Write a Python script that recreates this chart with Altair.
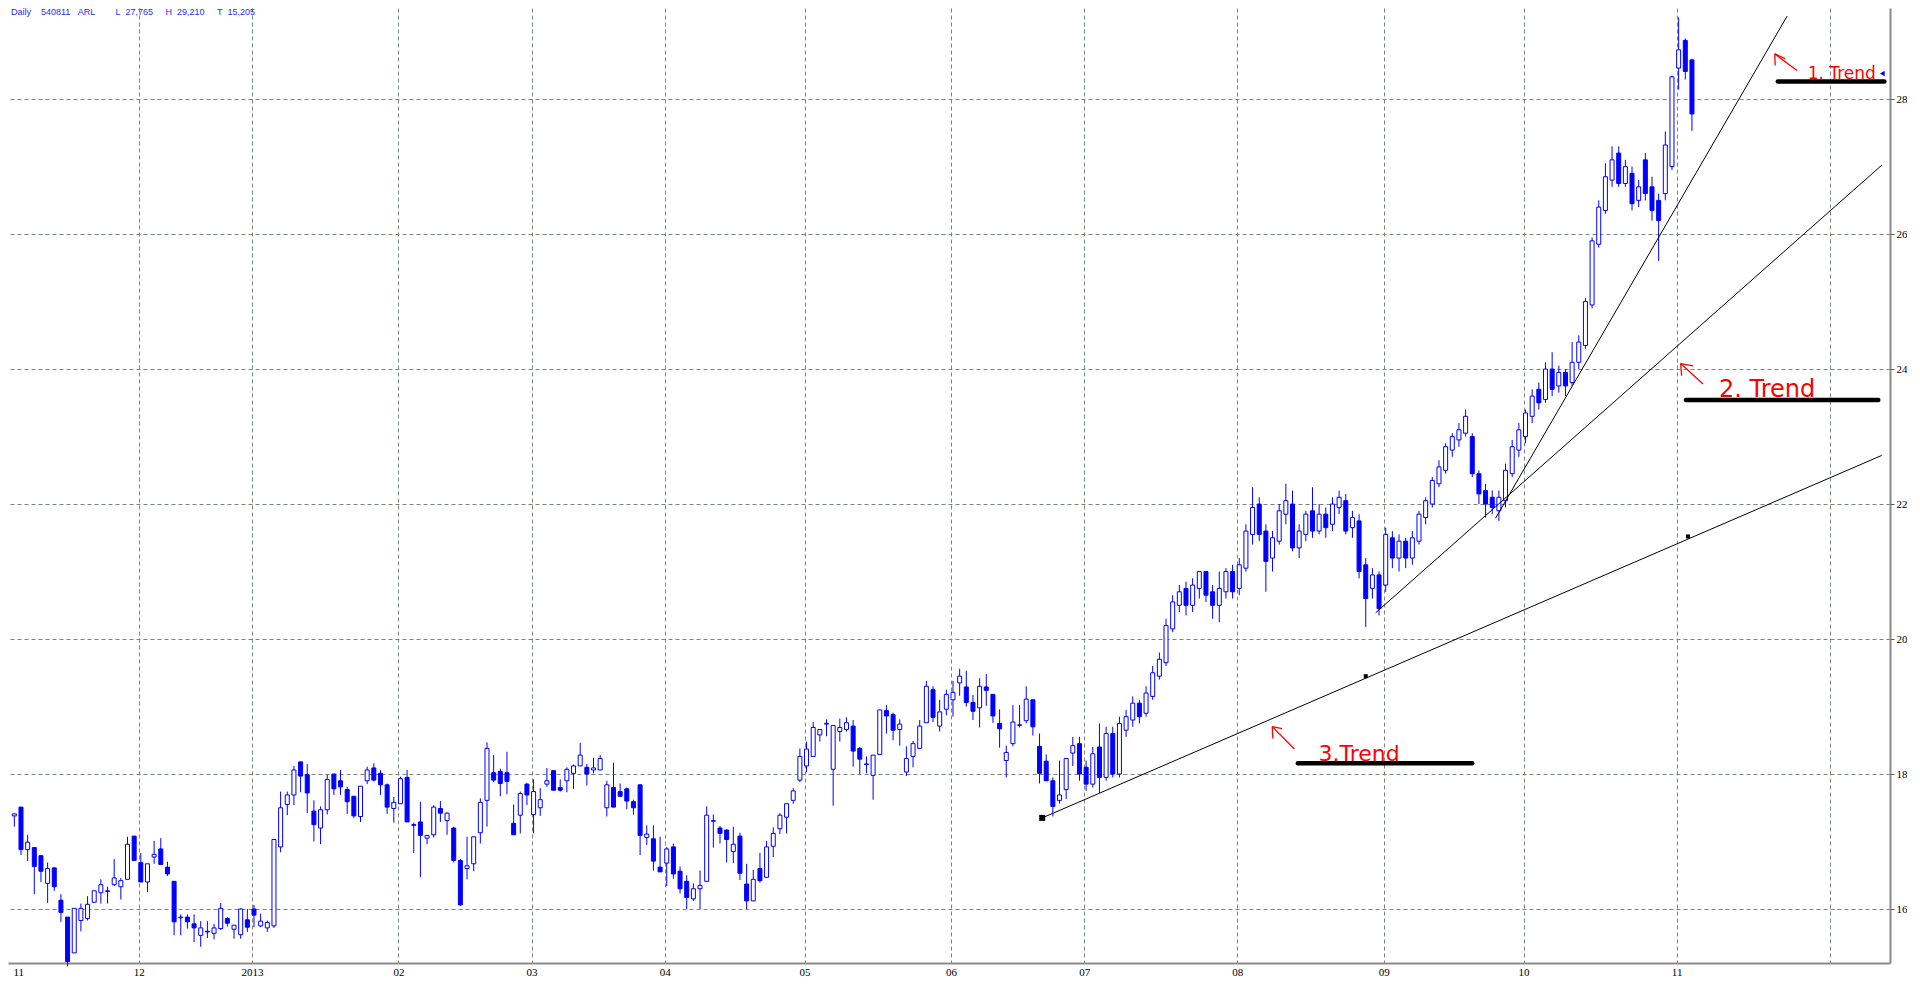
import altair as alt
import pandas as pd

# ---------------- data ----------------
opens = [
    17.38, 17.51, 16.88, 16.91, 16.79, 16.38, 16.61, 16.13, 15.88, 15.35,
    15.83, 15.86, 16.10, 16.24, 16.26, 16.36, 16.33, 16.44, 17.08, 16.69,
    16.40, 16.77, 16.89, 16.62, 16.41, 15.87, 15.88, 15.78, 15.61, 15.66,
    15.64, 15.71, 15.86, 15.70, 15.62, 15.84, 16.00, 15.75, 15.72, 15.75,
    16.92, 17.55, 17.69, 18.18, 17.99, 17.45, 17.20, 17.47, 18.00, 17.90,
    17.77, 17.67, 17.37, 17.90, 18.09, 18.01, 17.84, 17.49, 17.56, 17.95,
    17.25, 17.29, 17.05, 17.10, 17.49, 17.31, 17.20, 16.72, 16.60, 16.67,
    17.13, 17.61, 18.02, 18.04, 18.02, 17.27, 17.39, 17.85, 17.40, 17.50,
    17.85, 18.05, 17.80, 17.90, 18.01, 18.12, 18.10, 18.06, 18.06, 17.50,
    17.80, 17.74, 17.78, 17.59, 17.84, 17.06, 17.04, 16.62, 16.68, 16.92,
    16.56, 16.41, 16.15, 16.30, 16.41, 17.30, 17.20, 17.17, 16.85, 17.08,
    16.37, 16.12, 16.60, 16.47, 16.93, 17.19, 17.36, 17.61, 17.91, 18.12,
    18.26, 18.58, 18.74, 18.07, 18.63, 18.66, 18.71, 18.38, 18.14, 17.98,
    18.29, 18.94, 18.88, 18.66, 18.03, 18.26, 18.38, 18.76, 19.25, 18.71,
    18.96, 19.10, 19.35, 19.29, 19.06, 18.98, 19.29, 19.18, 18.75, 18.20,
    18.45, 18.72, 18.79, 19.10, 18.41, 18.19, 17.90, 17.61, 17.77, 18.31,
    18.45, 18.10, 17.85, 18.40, 17.95, 18.60, 18.00, 18.65, 18.80, 19.05,
    18.90, 19.15, 19.45, 19.65, 20.15, 20.50, 20.75, 20.50, 20.75, 21.00,
    20.70, 20.50, 20.70, 21.00, 20.75, 21.05, 21.55, 22.00, 21.60, 21.20,
    21.45, 21.85, 22.00, 21.35, 21.55, 21.90, 21.60, 21.85, 21.70, 21.95,
    22.05, 21.65, 21.75, 21.10, 20.75, 20.95, 20.80, 21.50, 21.20, 21.45,
    21.20, 21.45, 21.80, 22.00, 22.30, 22.50, 22.80, 22.95, 23.05, 23.00,
    22.45, 22.20, 22.10, 21.90, 22.05, 22.45, 22.80, 23.00, 23.30, 23.70,
    23.55, 24.00, 23.75, 23.95, 23.80, 24.10, 24.35, 24.95, 25.85, 26.35,
    26.80, 27.20, 26.75, 26.90, 26.50, 27.10, 26.70, 26.50, 26.60, 27.00,
    28.46, 28.87, 28.58,
]
highs = [
    17.41, 17.51, 17.10, 16.91, 16.79, 16.69, 16.61, 16.22, 15.88, 16.01,
    16.08, 16.19, 16.27, 16.44, 16.33, 16.74, 16.46, 17.07, 17.08, 16.83,
    16.67, 17.01, 17.05, 16.70, 16.41, 15.92, 15.92, 15.92, 15.82, 15.82,
    15.78, 16.09, 15.88, 15.76, 16.01, 16.00, 16.06, 15.93, 15.83, 17.04,
    17.74, 17.74, 18.12, 18.18, 18.15, 17.61, 17.52, 17.99, 18.00, 18.06,
    17.81, 17.67, 17.82, 18.11, 18.16, 18.06, 17.86, 17.66, 17.96, 18.06,
    17.28, 17.59, 17.09, 17.54, 17.60, 17.43, 17.22, 16.74, 17.07, 17.07,
    17.64, 18.47, 18.28, 18.08, 18.33, 17.55, 17.74, 17.87, 17.92, 17.79,
    18.09, 18.05, 17.92, 18.10, 18.14, 18.46, 18.15, 18.24, 18.28, 17.90,
    18.17, 17.86, 17.80, 17.62, 17.84, 17.24, 17.24, 17.07, 16.92, 16.97,
    16.63, 16.50, 16.38, 16.57, 17.52, 17.40, 17.23, 17.18, 17.22, 17.13,
    16.67, 16.58, 16.83, 17.01, 17.21, 17.42, 17.56, 17.79, 18.38, 18.48,
    18.77, 18.66, 18.81, 18.72, 18.82, 18.84, 18.80, 18.40, 18.26, 18.28,
    18.95, 19.02, 18.91, 18.81, 18.41, 18.49, 18.80, 19.38, 19.30, 19.10,
    19.25, 19.38, 19.56, 19.53, 19.17, 19.42, 19.48, 19.18, 18.96, 18.42,
    19.02, 19.02, 19.30, 19.10, 18.60, 18.29, 17.95, 18.20, 18.23, 18.55,
    18.55, 18.20, 18.40, 18.75, 18.70, 18.70, 18.85, 18.95, 19.15, 19.10,
    19.30, 19.60, 19.80, 20.30, 20.65, 20.80, 20.85, 20.90, 21.00, 21.00,
    20.80, 21.00, 21.05, 21.10, 21.20, 21.70, 22.25, 22.10, 21.70, 21.60,
    22.00, 22.30, 22.20, 21.70, 21.90, 22.25, 22.00, 21.95, 22.10, 22.20,
    22.15, 21.90, 21.85, 21.20, 21.05, 21.00, 21.65, 21.60, 21.55, 21.50,
    21.60, 21.90, 22.10, 22.40, 22.65, 22.90, 23.05, 23.20, 23.40, 23.05,
    22.50, 22.30, 22.20, 22.20, 22.60, 22.95, 23.20, 23.40, 23.70, 23.80,
    24.10, 24.25, 24.05, 24.00, 24.40, 24.50, 25.05, 25.95, 26.50, 27.05,
    27.30, 27.30, 27.10, 27.00, 26.80, 27.20, 26.85, 26.60, 27.52, 28.35,
    29.21, 28.90, 28.60,
]
lows = [
    17.22, 16.80, 16.71, 16.22, 16.40, 16.09, 16.27, 15.81, 15.15, 15.35,
    15.67, 15.83, 16.10, 16.08, 16.08, 16.34, 16.14, 16.44, 16.72, 16.40,
    16.25, 16.67, 16.66, 16.49, 15.61, 15.61, 15.71, 15.51, 15.44, 15.57,
    15.55, 15.69, 15.74, 15.56, 15.56, 15.66, 15.73, 15.73, 15.66, 15.72,
    16.84, 17.39, 17.54, 17.73, 17.42, 17.00, 16.96, 17.40, 17.69, 17.69,
    17.41, 17.35, 17.29, 17.85, 17.89, 17.69, 17.41, 17.28, 17.56, 17.29,
    16.83, 16.47, 16.96, 17.06, 17.29, 17.10, 16.69, 16.05, 16.44, 16.56,
    16.97, 17.22, 17.88, 17.67, 17.70, 17.10, 17.12, 17.54, 17.12, 17.38,
    17.81, 17.76, 17.74, 17.73, 17.78, 18.12, 17.83, 18.01, 18.06, 17.37,
    17.51, 17.66, 17.48, 17.40, 16.80, 16.95, 16.57, 16.55, 16.34, 16.45,
    16.23, 16.00, 16.12, 16.00, 16.41, 16.91, 16.97, 16.69, 16.68, 16.43,
    16.00, 16.12, 16.39, 16.46, 16.77, 17.11, 17.12, 17.56, 17.88, 18.03,
    18.26, 18.48, 18.56, 17.53, 18.48, 18.63, 18.11, 18.00, 18.01, 17.62,
    18.29, 18.60, 18.50, 18.42, 17.97, 18.10, 18.38, 18.76, 18.77, 18.63,
    18.87, 18.85, 19.16, 19.00, 18.80, 18.69, 19.01, 18.76, 18.39, 17.95,
    18.41, 18.69, 18.75, 18.57, 17.86, 17.90, 17.37, 17.56, 17.63, 18.12,
    17.90, 17.75, 17.80, 17.72, 17.90, 17.95, 17.95, 18.55, 18.70, 18.75,
    18.85, 19.10, 19.40, 19.60, 20.10, 20.40, 20.35, 20.40, 20.60, 20.55,
    20.30, 20.25, 20.60, 20.60, 20.65, 21.00, 21.40, 21.45, 20.70, 21.00,
    21.40, 21.70, 21.30, 21.20, 21.45, 21.50, 21.55, 21.50, 21.60, 21.85,
    21.55, 21.50, 20.90, 20.18, 20.60, 20.35, 20.70, 21.05, 21.00, 21.05,
    21.10, 21.40, 21.70, 21.95, 22.25, 22.45, 22.70, 22.85, 23.00, 22.40,
    22.00, 21.80, 21.85, 21.75, 21.95, 22.40, 22.70, 22.90, 23.20, 23.40,
    23.50, 23.60, 23.65, 23.60, 23.75, 24.00, 24.30, 24.90, 25.80, 26.30,
    26.70, 26.70, 26.70, 26.35, 26.40, 26.50, 26.20, 25.60, 26.50, 26.95,
    28.14, 28.29, 27.53,
]
closes = [
    17.41, 16.88, 16.99, 16.63, 16.56, 16.60, 16.33, 15.95, 15.22, 16.01,
    16.01, 16.07, 16.27, 16.36, 16.27, 16.46, 16.42, 16.96, 16.72, 16.40,
    16.67, 16.81, 16.66, 16.52, 15.81, 15.88, 15.81, 15.72, 15.72, 15.67,
    15.72, 16.01, 15.79, 15.76, 16.00, 15.73, 15.91, 15.82, 15.80, 17.03,
    17.50, 17.69, 18.06, 17.97, 17.72, 17.25, 17.47, 17.92, 17.78, 17.81,
    17.59, 17.38, 17.82, 18.06, 17.91, 17.84, 17.51, 17.58, 17.93, 17.29,
    17.24, 17.09, 17.09, 17.51, 17.42, 17.42, 16.72, 16.06, 16.64, 17.07,
    17.58, 18.38, 17.91, 17.86, 17.89, 17.10, 17.71, 17.69, 17.74, 17.62,
    17.90, 17.76, 17.76, 18.07, 18.12, 18.28, 18.00, 18.09, 18.23, 17.84,
    17.51, 17.67, 17.60, 17.50, 17.09, 17.11, 16.71, 16.55, 16.89, 16.52,
    16.30, 16.17, 16.30, 16.35, 17.39, 17.31, 17.12, 17.03, 16.96, 16.53,
    16.12, 16.44, 16.42, 16.92, 17.12, 17.39, 17.56, 17.75, 18.26, 18.37,
    18.69, 18.66, 18.75, 18.72, 18.69, 18.76, 18.34, 18.22, 18.15, 18.28,
    18.95, 18.86, 18.65, 18.74, 18.23, 18.45, 18.71, 19.30, 18.84, 18.92,
    19.18, 19.21, 19.45, 19.06, 18.93, 19.30, 19.24, 18.86, 18.67, 18.32,
    18.77, 18.73, 19.11, 18.70, 18.01, 17.90, 17.52, 17.69, 18.23, 18.42,
    18.00, 17.85, 18.30, 17.95, 18.60, 18.00, 18.75, 18.85, 19.05, 18.85,
    19.20, 19.50, 19.70, 20.20, 20.55, 20.70, 20.50, 20.80, 21.00, 20.65,
    20.50, 20.75, 21.00, 20.70, 21.10, 21.60, 21.95, 21.55, 21.15, 21.50,
    21.90, 22.05, 21.35, 21.60, 21.85, 21.60, 21.85, 21.65, 22.00, 22.10,
    21.60, 21.80, 21.00, 20.60, 20.95, 20.45, 21.55, 21.20, 21.45, 21.20,
    21.50, 21.85, 22.05, 22.35, 22.55, 22.85, 23.00, 23.10, 23.30, 22.45,
    22.15, 22.00, 21.95, 22.10, 22.50, 22.85, 23.10, 23.35, 23.60, 23.50,
    24.00, 23.70, 23.95, 23.75, 24.10, 24.40, 25.00, 25.90, 26.40, 26.85,
    27.10, 26.75, 27.00, 26.45, 26.70, 26.60, 26.35, 26.20, 27.32, 28.33,
    28.73, 28.41, 27.78,
]

month_ticks = [0.8, 19.7, 36.7, 58.7, 78.7, 98.7, 119.7, 141.7, 161.7, 184.7,
               206.7, 227.7, 250.7, 273.7]
month_labels = ["11", "12", "2013", "02", "03", "04", "05", "06", "07", "08",
                "09", "10", "11", ""]
price_ticks = [16, 18, 20, 22, 24, 26, 28]

# trend lines: start (index, price) -> end (index, price)
trend_x1 = [155.4, 205.5, 223.5]
trend_y1 = [17.35, 20.39, 21.79]
trend_x2 = [281.5, 281.5, 267.3]
trend_y2 = [22.72, 27.02, 29.23]

# anchor squares on the 3rd trend line
anchor_x = [155.4, 204.0, 252.4]
anchor_y = [17.35, 19.45, 21.52]
anchor_size = [36, 16, 16]

# thick underlines of the annotations
under_x1 = [265.9, 252.1, 193.8]
under_x2 = [281.9, 281.0, 220.0]
under_y = [28.26, 23.54, 18.16]

# red handwritten notes
note_text = ["1. Trend", "2. Trend", "3.Trend"]
note_x = [275.5, 264.3, 203.0]
note_y = [28.30, 23.58, 18.19]
note_size = [17, 24, 22]

# red arrows: shaft and two head strokes (index/price coordinates)
arrow_x1 = [265.44, 265.44, 265.44, 251.30, 251.30, 251.30, 189.95, 189.95, 189.95]
arrow_y1 = [28.670, 28.670, 28.670, 24.082, 24.082, 24.082, 18.702, 18.702, 18.702]
arrow_x2 = [268.78, 265.51, 267.00, 254.67, 251.45, 253.19, 193.28, 190.05, 191.43]
arrow_y2 = [28.424, 28.497, 28.600, 23.779, 23.902, 24.048, 18.370, 18.526, 18.673]

NB = "\u00a0"
header = ("Daily" + NB * 4 + "540811" + NB * 3 + "ARL" + NB * 8 + "L" + NB * 2 +
          "27,765" + NB * 5 + "H" + NB * 2 + "29,210" + NB * 5 + "T" + NB * 2 + "15,205")
last_marker_price = 28.38

# ---------------- chart ----------------
BLUE = "#0000ff"
GRID = "#7b857b"
AXISC = "#8a8a8a"

n = len(opens)
df = pd.DataFrame({"i": list(range(1, n + 1)), "o": opens, "h": highs,
                   "l": lows, "c": closes})

xs = alt.Scale(domain=[0.8, 282.0], nice=False, zero=False)
ys = alt.Scale(domain=[15.2, 29.35], nice=False, zero=False)

label_expr = ("[" + ",".join('"%s"' % s for s in month_labels) + "][indexof(["
              + ",".join(str(t) for t in month_ticks) + "], datum.value)]")

x_axis = alt.Axis(values=month_ticks, labelExpr=label_expr, grid=True,
                  gridColor=GRID, gridDash=[4, 3], gridWidth=1,
                  gridOpacity={"condition": {"test": "datum.value < 2", "value": 0},
                               "value": 1},
                  domain=True, domainColor=AXISC, domainWidth=2, ticks=False,
                  labelFont="Liberation Sans Narrow", labelFontSize=11,
                  labelColor="black", labelPadding=3, labelFlush=5,
                  labelOverlap=False, title=None)
y_axis = alt.Axis(orient="right", values=price_ticks, format="d", grid=True,
                  gridColor=GRID, gridDash=[4, 3], gridWidth=1,
                  domain=True, domainColor=AXISC, domainWidth=2,
                  ticks=True, tickColor="#555555", tickSize=4,
                  labelFont="Liberation Serif", labelFontSize=11,
                  labelColor="black", labelPadding=2, title=None)


def X(field):
    return alt.X(field, scale=xs, axis=x_axis, title=None)


def Y(field):
    return alt.Y(field, scale=ys, axis=y_axis, title=None)


base = alt.Chart(df)
wick = base.mark_rule(color=BLUE, strokeWidth=1).encode(
    x=X("i:Q"), y=Y("l:Q"), y2="h:Q")
body = base.mark_bar(size=4, stroke=BLUE, strokeWidth=1).encode(
    x=X("i:Q"), y=Y("o:Q"), y2="c:Q",
    fill=alt.condition("datum.c >= datum.o", alt.value("white"), alt.value(BLUE)),
)

tl = pd.DataFrame({"x1": trend_x1, "y1": trend_y1, "x2": trend_x2, "y2": trend_y2})
trend = alt.Chart(tl).mark_rule(color="black", strokeWidth=1).encode(
    x=X("x1:Q"), y=Y("y1:Q"), x2="x2:Q", y2="y2:Q")

sq = pd.DataFrame({"x": anchor_x, "y": anchor_y, "s": anchor_size})
squares = alt.Chart(sq).mark_square(color="black", filled=True, opacity=1).encode(
    x=X("x:Q"), y=Y("y:Q"), size=alt.Size("s:Q", scale=None, legend=None))

ul = pd.DataFrame({"x1": under_x1, "x2": under_x2, "y": under_y})
under = alt.Chart(ul).mark_rule(color="black", strokeWidth=4.5, strokeCap="round").encode(
    x=X("x1:Q"), x2="x2:Q", y=Y("y:Q"))

nt = pd.DataFrame({"x": note_x, "y": note_y, "t": note_text, "s": note_size})
notes = alt.Chart(nt).mark_text(color="#ff0000", font="DejaVu Sans",
                                baseline="alphabetic").encode(
    x=X("x:Q"), y=Y("y:Q"), text="t:N",
    size=alt.Size("s:Q", scale=None, legend=None))

ar = pd.DataFrame({"x1": arrow_x1, "y1": arrow_y1, "x2": arrow_x2, "y2": arrow_y2})
arrows = alt.Chart(ar).mark_rule(color="#ff0000", strokeWidth=1.3).encode(
    x=X("x1:Q"), y=Y("y1:Q"), x2="x2:Q", y2="y2:Q")

hd = pd.DataFrame({"t": [header]})
head = alt.Chart(hd).mark_text(color="#2a2aff", font="Liberation Sans",
                               fontSize=9, align="left", baseline="top").encode(
    x=alt.value(3), y=alt.value(0), text="t:N")

mk = pd.DataFrame({"x": [281.6], "y": [last_marker_price]})
marker = alt.Chart(mk).mark_point(shape="triangle-left", filled=True, color=BLUE,
                                  size=30, opacity=1).encode(
    x=X("x:Q"), y=Y("y:Q"))

chart = alt.layer(wick, body, trend, squares, under, notes, arrows, head, marker).properties(
    width=1882, height=955, padding=0, background="white"
).configure_view(stroke=None)

chart.save("out.html", embed_options={"renderer": "svg", "actions": False})
